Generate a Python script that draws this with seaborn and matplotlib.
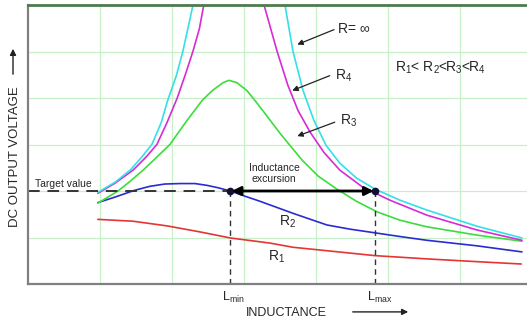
import numpy as np
import pandas as pd
import matplotlib
matplotlib.use("Agg")
import matplotlib.pyplot as plt
import seaborn as sns

# ---- data (arbitrary units) ----
r1_x = [0.97, 1.46, 1.93, 2.39, 2.81, 3.36, 3.68, 4.82, 5.54, 6.24, 6.85]
r1_y = [1.39, 1.35, 1.25, 1.12, 0.99, 0.88, 0.79, 0.61, 0.54, 0.48, 0.43]

r2_x = [0.97, 1.21, 1.47, 1.69, 1.90, 2.11, 2.32, 2.49, 2.64, 2.81, 3.01, 3.22,
        3.68, 4.15, 4.47, 4.82, 5.17, 5.54, 6.24, 6.86]
r2_y = [1.75, 1.87, 2.01, 2.10, 2.15, 2.16, 2.16, 2.12, 2.07, 2.00, 1.89, 1.78,
        1.52, 1.27, 1.18, 1.10, 1.02, 0.94, 0.82, 0.69]

r3_x = [0.97, 1.11, 1.25, 1.42, 1.60, 1.79, 1.97, 2.21, 2.42, 2.56, 2.71, 2.79,
        2.90, 3.04, 3.15, 3.29, 3.50, 3.67, 3.81, 4.03, 4.29, 4.56, 4.85, 5.17,
        5.54, 6.24, 6.86]
r3_y = [1.74, 1.87, 2.00, 2.21, 2.45, 2.73, 3.00, 3.52, 3.95, 4.16, 4.33, 4.38,
        4.33, 4.16, 3.95, 3.67, 3.24, 2.92, 2.66, 2.32, 2.04, 1.78, 1.55, 1.37,
        1.23, 1.05, 0.92]

r4_x = [0.97, 1.21, 1.46, 1.64, 1.79, 1.93, 2.07, 2.18, 2.29, 2.38, 2.44, 2.85,
        3.28, 3.46, 3.61, 3.75, 3.92, 4.11, 4.33, 4.65, 5.03, 5.54, 6.24, 6.86]
r4_y = [1.95, 2.17, 2.45, 2.73, 3.00, 3.47, 3.99, 4.48, 5.00, 5.49, 5.99, 7.50,
        5.99, 5.00, 4.27, 3.73, 3.26, 2.83, 2.45, 2.08, 1.80, 1.48, 1.16, 0.94]

rinf_x = [0.97, 1.21, 1.42, 1.58, 1.72, 1.85, 1.94, 2.06, 2.15, 2.22, 2.29, 2.85,
          3.57, 3.68, 3.82, 3.97, 4.14, 4.33, 4.56, 4.82, 5.17, 5.54, 6.24, 6.86]
rinf_y = [1.97, 2.19, 2.45, 2.73, 3.00, 3.47, 3.95, 4.48, 5.00, 5.49, 5.99, 8.00,
          5.99, 5.00, 4.16, 3.52, 2.98, 2.60, 2.28, 2.04, 1.80, 1.59, 1.24, 0.99]

series_names = ["R1", "R2", "R3", "R4", "Rinf"]
series_colors = ["#e53535", "#2b2bd2", "#3ddc3d", "#d82ad8", "#33e0e6"]

TARGET = 2.0
L_MIN = 2.81
L_MAX = 4.82

# ---- build long-form table ----
frames = []
for name, xs, ys in zip(series_names,
                        [r1_x, r2_x, r3_x, r4_x, rinf_x],
                        [r1_y, r2_y, r3_y, r4_y, rinf_y]):
    frames.append(pd.DataFrame({"L": xs, "V": ys, "R": name}))
df = pd.concat(frames, ignore_index=True)

sns.set_theme(style="white")
plt.rcParams["font.family"] = ["Liberation Sans", "DejaVu Sans"]
plt.rcParams["mathtext.fontset"] = "custom"
plt.rcParams["mathtext.rm"] = "Liberation Sans"
plt.rcParams["mathtext.it"] = "Liberation Sans:italic"

fig = plt.figure(figsize=(5.27, 3.23), dpi=100)
ax = fig.add_axes([28 / 527, 39 / 323, 499 / 527, 279 / 323])

sns.lineplot(data=df, x="L", y="V", hue="R", hue_order=series_names,
             palette=dict(zip(series_names, series_colors)),
             estimator=None, legend=False, lw=1.2, ax=ax)
for ln in ax.lines:
    ln.set_solid_joinstyle("round")

ax.set_xlim(0, 6.93)
ax.set_ylim(0, 6)
ax.set_xticks(range(1, 7))
ax.set_yticks(range(1, 6))
ax.tick_params(length=0, labelbottom=False, labelleft=False)
ax.grid(True, color="#c8f0c8", lw=0.9)
ax.set_xlabel("")
ax.set_ylabel("")
for s in ["left", "bottom"]:
    ax.spines[s].set_color("#808080")
    ax.spines[s].set_linewidth(1.6)
ax.spines["top"].set_color("#4f7a4f")
ax.spines["top"].set_linewidth(2.0)
ax.spines["right"].set_visible(False)

# target line and L markers
ax.plot([0, L_MIN], [TARGET, TARGET], color="#333333", lw=1.4, dashes=(6, 4))
for xv in (L_MIN, L_MAX):
    ax.plot([xv, xv], [0, TARGET], color="#333333", lw=1.0, dashes=(4, 3))
ax.annotate("", xy=(L_MIN + 0.02, TARGET), xytext=(L_MAX - 0.02, TARGET),
            arrowprops=dict(arrowstyle="<|-|>", color="black", lw=2.0,
                            mutation_scale=13, shrinkA=0, shrinkB=0))
ax.plot([L_MIN, L_MAX], [TARGET, TARGET], "o", color="#111133", ms=4.5)

# labels
ax.text(0.10, 2.15, "Target value", fontsize=7.5, va="center", ha="left")
ax.text(3.42, 2.38, "Inductance\nexcursion", fontsize=7.5, va="center",
        ha="center", linespacing=1.15)
ax.text(4.31, 5.49, "R= \u221e", fontsize=10, va="center", ha="left")
ax.text(4.26, 4.48, r"R$\mathregular{_4}$", fontsize=10, va="center", ha="left")
ax.text(4.33, 3.52, r"R$\mathregular{_3}$", fontsize=10, va="center", ha="left")
ax.text(3.49, 1.33, r"R$\mathregular{_2}$", fontsize=10, va="center", ha="left")
ax.text(3.33, 0.58, r"R$\mathregular{_1}$", fontsize=10, va="center", ha="left")
ax.text(5.10, 4.66,
        r"R$\mathregular{_1}$< R$\mathregular{_2}$<R$\mathregular{_3}$<R$\mathregular{_4}$",
        fontsize=10, va="center", ha="left")

arrow_kw = dict(arrowstyle="-|>", color="#222222", lw=0.9, mutation_scale=8,
                shrinkA=0, shrinkB=0)
ax.annotate("", xy=(3.74, 5.15), xytext=(4.25, 5.47), arrowprops=arrow_kw)
ax.annotate("", xy=(3.67, 4.16), xytext=(4.19, 4.48), arrowprops=arrow_kw)
ax.annotate("", xy=(3.74, 3.18), xytext=(4.26, 3.48), arrowprops=arrow_kw)

ax.text(L_MIN + 0.04, -0.28, r"L$\mathregular{_{min}}$", fontsize=9,
        ha="center", va="center", clip_on=False)
ax.text(L_MAX + 0.06, -0.28, r"L$\mathregular{_{max}}$", fontsize=9,
        ha="center", va="center", clip_on=False)
ax.text(3.59, -0.62, "INDUCTANCE", fontsize=9, ha="center", va="center",
        clip_on=False)
ax.annotate("", xy=(5.28, -0.60), xytext=(4.51, -0.60), annotation_clip=False,
            arrowprops=dict(arrowstyle="-|>", color="#222222", lw=1.0,
                            mutation_scale=9, shrinkA=0, shrinkB=0))

fig.text(15 / 527, 1 - 157 / 323, "DC OUTPUT VOLTAGE", rotation=90,
         fontsize=9.5, ha="center", va="center")
fig.patches.append(matplotlib.patches.FancyArrowPatch(
    (13 / 527, 1 - 77 / 323), (13 / 527, 1 - 46 / 323),
    transform=fig.transFigure, arrowstyle="-|>", color="#222222", lw=1.0,
    mutation_scale=9))

fig.savefig("out.png", dpi=100)
